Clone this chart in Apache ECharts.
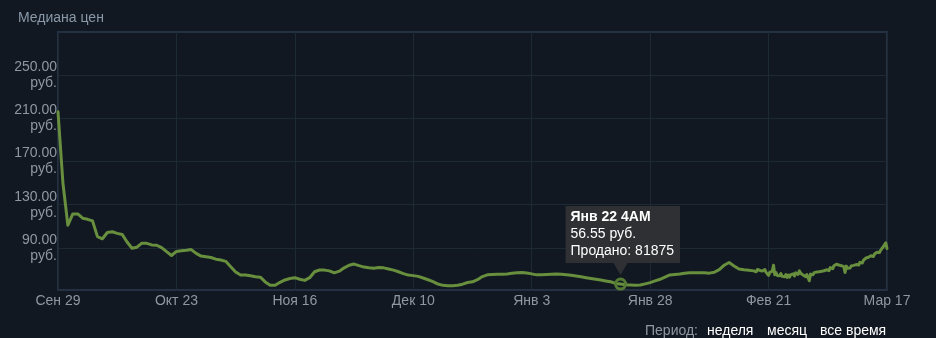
<!DOCTYPE html>
<html>
<head>
<meta charset="utf-8">
<script src="https://cdn.jsdelivr.net/npm/echarts@6/dist/echarts.min.js"></script>
<style>
html,body{margin:0;padding:0;background:#111821;}
#chart{width:936px;height:338px;}
</style>
</head>
<body>
<div id="chart"></div>
<script>
// Tick labels for x axis (every 24 days starting Sep 29)
const xTickLabels = ['Сен 29','Окт 23','Ноя 16','Дек 10','Янв 3','Янв 28','Фев 21','Мар 17'];
const xTickStepDays = 24;
// Y tick values
const yTickValues = [90,130,170,210,250];
// Daily median prices (day 0 = Sep 29)
const dailyPrices = [216,150,111,121.5,121.5,117.5,116.5,115,100.5,98.5,
104.3,105,103.5,102.5,95.5,89.7,90.7,94.4,94.3,92.8,
92.5,90.3,86.6,83,86.8,87.5,87.8,88.5,85,82.5,
81.8,81.2,79.6,78.8,77.6,72.6,67.8,65,65,64.3,
63.4,63,58.6,55.5,55.5,58.2,60.4,61.7,62.5,61,
60,62.5,68,69.6,69.5,68.8,67,68.5,71.6,74,
75.1,73.6,72.3,71.6,71.2,72,71.6,70.6,69.5,68,
66.3,64.9,64.4,63.7,62.2,60.6,58.9,56.6,55.4,55.1,
55.1,55.5,56.5,58,58.7,60.6,63.5,65.1,65.5,65.6,
65.6,66,66.6,67.1,67.3,66.8,66,65.1,65.2,65.4,
65.7,65.8,65.6,65.3,64.8,64,63.3,62.5,61.8,61,
60.3,59.5,58.7,57.2,56.55,55.9,55.7,55.5,55.7,56.8,
57.9,59.5,61,63,65,65.5,65.9,66.5,67,67.1,
67.1,67,66.7,67.5,70,74,76.5,73.3,70.5,69.8,
69.4,68.8];
// Recent prices, every 6 hours, starting day 141.25
const recentStartDay = 141.25;
const recentStepDays = 0.25;
const recentPrices = [69.2,68.0,70.1,70.5,
69.2,71.0,68.7,68.6,
70.0,67.4,66.8,64.6,
67.4,65.8,68.6,74.0,65.2,67.2,
64.6,66.2,64.2,66.3,63.8,65.4,
63.4,65.3,62.8,64.9,63.0,65.2,
63.6,66.0,64.0,66.9,67.6,65.6,
68.8,66.6,66.6,64.9,65.2,63.5,
65.4,63.8,59.6,65.8,66.7,65.2,
67.2,65.7,67.7,66.1,68.0,66.5,
68.4,66.8,68.9,67.4,69.8,70.6,
69.1,71.8,72.4,70.9,73.6,72.2,
74.9,76.2,74.2,75.6,73.6,75.0,
72.7,67.3,73.2,71.2,72.8,71.4,
73.4,72.0,73.9,72.4,74.6,75.4,
74.2,76.7,77.4,76.1,78.8,78.6,
80.7,79.2,81.4,80.2,82.8,83.4,
82.1,84.6,84.4,86.0,87.3,85.9,
88.2,88.2,91.1,92.6,94.8,89.5];
// Highlighted point (tooltip)
const tipDay = 114;
const tipPrice = 56.55;
const tipTitle = 'Янв 22 4AM';
const tipPriceText = '56.55 руб.';
const tipSold = 'Продано: 81875';

const seriesData = [];
dailyPrices.forEach((v,i)=>seriesData.push([i,v]));
recentPrices.forEach((v,i)=>seriesData.push([recentStartDay+i*recentStepDays,v]));

const FONT = 'Arial, "Liberation Sans", sans-serif';
const chart = echarts.init(document.getElementById('chart'), null, {renderer:'canvas'});
chart.setOption({
  backgroundColor:'#111821',
  animation:false,
  textStyle:{fontFamily:FONT},
  title:{text:'Медиана цен',left:13,top:6,textStyle:{color:'#8a99aa',fontSize:14,fontWeight:'normal',fontFamily:FONT}},
  grid:{left:58,right:49,top:32,bottom:48,show:true,borderColor:'#243142',borderWidth:2,backgroundColor:'transparent'},
  xAxis:{type:'value',min:0,max:(xTickLabels.length-1)*xTickStepDays,interval:xTickStepDays,
    axisLine:{show:false},axisTick:{show:false},
    splitLine:{show:true,lineStyle:{color:'#1e2936',width:1}},
    axisLabel:{color:'#8f98a0',fontSize:14,fontFamily:FONT,margin:4,
      formatter:(v)=>xTickLabels[Math.round(v/xTickStepDays)]||''}},
  yAxis:{type:'value',min:51.1,max:289.8,
    axisLine:{show:false},
    axisTick:{show:false,customValues:yTickValues},
    splitLine:{show:true,lineStyle:{color:'#1e2936',width:1}},
    axisLabel:{customValues:yTickValues,color:'#8f98a0',fontSize:14,fontFamily:FONT,margin:1,lineHeight:16,
      formatter:(v)=>v.toFixed(2)+'\nруб.'}},
  series:[{type:'line',data:seriesData,showSymbol:false,smooth:false,
    lineStyle:{color:'#688f3e',width:3,join:'round',cap:'round'},
    itemStyle:{color:'#688f3e'},
    markPoint:{silent:true,animation:false,data:[
      {coord:[tipDay,tipPrice],symbol:'circle',symbolSize:10,
        itemStyle:{color:'rgba(0,0,0,0)',borderColor:'#557a33',borderWidth:3},label:{show:false}},
      {coord:[tipDay,tipPrice],symbol:'triangle',symbolRotate:180,symbolSize:[14,12],symbolOffset:[0,-15],
        itemStyle:{color:'#2e3033'},label:{show:false}},
      {coord:[tipDay,tipPrice],symbol:'rect',symbolSize:0,
        label:{show:true,position:'top',distance:21,offset:[-55,0],
          backgroundColor:'#2e3033',padding:[3,6,3,5],align:'left',
          formatter:'{b|'+tipTitle+'}\n{n|'+tipPriceText+'}\n{n|'+tipSold+'}',
          rich:{b:{color:'#ffffff',fontWeight:'bold',fontSize:14,lineHeight:17,fontFamily:FONT},
                n:{color:'#ffffff',fontSize:14,lineHeight:17,fontFamily:FONT}}}}
    ]}
  }],
  graphic:[
    {type:'text',left:645,top:324,style:{text:'Период:',fill:'#8f98a0',font:'14px '+FONT}},
    {type:'text',left:707,top:324,style:{text:'неделя',fill:'#ffffff',font:'14px '+FONT}},
    {type:'text',left:767,top:324,style:{text:'месяц',fill:'#ffffff',font:'14px '+FONT}},
    {type:'text',left:820,top:324,style:{text:'все время',fill:'#ffffff',font:'14px '+FONT}}
  ]
});
</script>
</body>
</html>
